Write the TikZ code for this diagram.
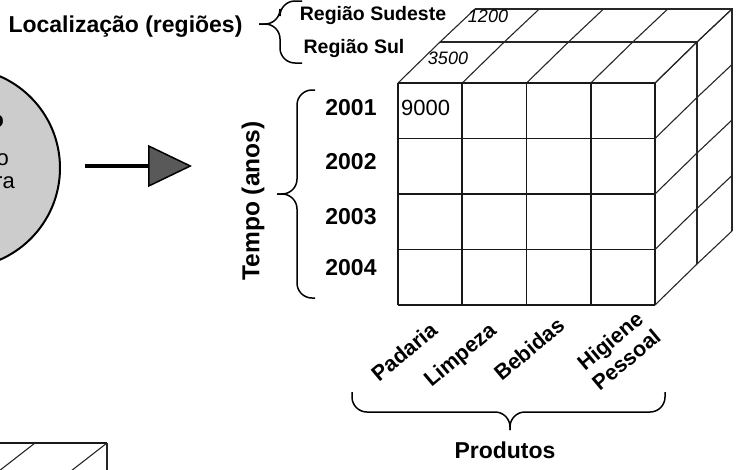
\documentclass[tikz,border=0pt]{standalone}
\usepackage{fontspec}
\setmainfont{Liberation Sans}
\usetikzlibrary{arrows.meta}

\begin{document}
\begin{tikzpicture}[x=1pt,y=-1pt,
  lbl/.style={inner sep=0pt,font=\fontsize{23}{27}\selectfont\bfseries},
  reg/.style={inner sep=0pt,font=\fontsize{19.5}{23}\selectfont\bfseries},
  prod/.style={inner sep=0pt,rotate=40,align=center,font=\fontsize{21.5}{25}\selectfont\bfseries},
  val/.style={inner sep=0pt,font=\fontsize{18}{22}\selectfont\itshape},
  grid/.style={line width=1.8pt,black!90},
  edge/.style={line width=1.1pt,black!85},
  brace/.style={line width=1.5pt,rounded corners=15pt}]
  \useasboundingbox (0,0) rectangle (741,469);
  \clip (0,0) rectangle (741,469);

  % circle, cut by the left border
  \draw[line width=2pt,fill=black!20] (-40,168) circle (100);
  \node[lbl,anchor=east] (c1) at (4,121) {o};
  \node[anchor=east,inner sep=0pt,font=\fontsize{22}{26}\selectfont] (c2) at (9,160) {o};
  \node[anchor=east,inner sep=0pt,font=\fontsize{22}{26}\selectfont] (c3) at (15,183) {ra};

  % arrow
  \coordinate (a0) at (85,166);
  \coordinate (a1) at (192,166);
  \draw[line width=3.5pt,-{Triangle[length=44pt,width=42pt,fill=black!65,line width=1.5pt]}] (a0) -- (a1);

  % cube
  \foreach \i in {0,...,4} {
    \pgfmathsetmacro\x{398+64.25*\i}
    \draw[edge] (\x,83) -- ++(42,-41) -- ++(35,-33);
    \draw[grid] (\x,83) -- (\x,305);
  }
  \foreach \y in {83,138.5,194,249.5,305} {
    \draw[edge] (655,\y) -- ++(42,-41) -- ++(35,-33);
    \draw[grid] (398,\y) -- (655,\y);
  }
  \draw[edge] (440,42) -- (697,42) -- (697,264);
  \draw[edge] (475,9) -- (732,9) -- (732,231);

  % second cube, cut by the bottom border
  \draw[grid] (0,443) -- (107,443);
  \draw[edge] (107,443) -- (107,480);
  \draw[edge] (107,443) -- ++(-45,35);
  \draw[edge] (35,443) -- ++(-45,35);

  % regions
  \node[lbl] (loc) at (125.5,27) {Localização (regiões)};
  \node[reg] (sudeste) at (373,15) {Região Sudeste};
  \node[reg] (sul) at (354,48) {Região Sul};
  \draw[brace] (302,1) -| (280,24) -- (259,24);
  \draw[brace] (302,63) -| (280,24) -- (259,24);
  \node[val] (v1200) at (488,16) {1200};
  \node[val] (v3500) at (448,58) {3500};
  \node[anchor=west,inner sep=0pt,font=\fontsize{22}{26}\selectfont] (v9000) at (401,108) {9000};

  % time
  \foreach \t/\y in {2001/108,2002/162,2003/217,2004/268}
    \node[lbl] (y\t) at (351,\y) {\t};
  \draw[brace] (315,90) -| (297,194) -- (277,194);
  \draw[brace] (315,298) -| (297,194) -- (277,194);
  \node[lbl,rotate=90,font=\fontsize{24.5}{28}\selectfont\bfseries] (tempo) at (253,201) {Tempo (anos)};

  % products
  \node[prod] (padaria) at (404,352) {Padaria};
  \node[prod] (limpeza) at (461,356) {Limpeza};
  \node[prod] (bebidas) at (529,349) {Bebidas};
  \node[prod] (higiene) at (618,350) {Higiene\\Pessoal};
  \draw[brace] (352,392) |- (510,412) -- (510,430);
  \draw[brace] (665,392) |- (510,412) -- (510,430);
  \node[lbl] (produtos) at (505,450) {Produtos};
\end{tikzpicture}
\end{document}
